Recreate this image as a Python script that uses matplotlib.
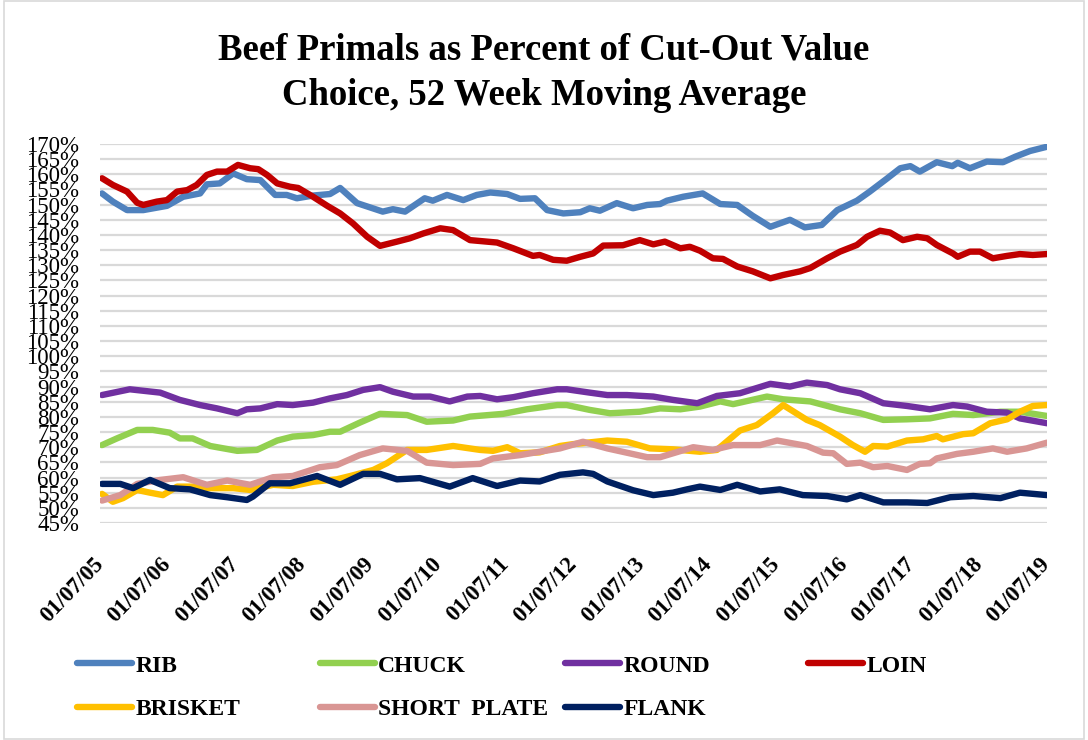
import numpy as np
import matplotlib
matplotlib.use("Agg")
import matplotlib.pyplot as plt
from matplotlib.patches import Rectangle

plt.rcParams['font.family'] = ['Liberation Serif', 'DejaVu Serif']

# years since 01/07/05, percent of cut-out value
rib = [(0.03, 153.7), (0.19, 151.0), (0.40, 148.2), (0.64, 148.2), (0.99, 149.6), (1.23, 152.6),
       (1.48, 153.7), (1.58, 156.7), (1.77, 157.0), (1.97, 160.3), (2.17, 158.4), (2.37, 158.1),
       (2.59, 153.2), (2.76, 153.2), (2.91, 152.1), (3.15, 153.0), (3.40, 153.5), (3.55, 155.5),
       (3.80, 150.5), (4.18, 147.7), (4.33, 148.5), (4.51, 147.7), (4.80, 152.1), (4.92, 151.3),
       (5.13, 153.2), (5.37, 151.5), (5.57, 153.2), (5.77, 154.0), (6.02, 153.5), (6.21, 151.9),
       (6.43, 152.1), (6.61, 148.2), (6.85, 147.1), (7.10, 147.5), (7.24, 148.8), (7.39, 148.0),
       (7.64, 150.5), (7.88, 148.8), (8.09, 149.9), (8.28, 150.2), (8.38, 151.3), (8.62, 152.6),
       (8.91, 153.7), (9.17, 150.2), (9.42, 149.9), (9.65, 146.3), (9.91, 142.7), (10.20, 145.0),
       (10.42, 142.5), (10.67, 143.3), (10.90, 148.2), (11.19, 151.3), (11.38, 154.3), (11.64, 158.7),
       (11.83, 162.0), (11.98, 162.7), (12.12, 160.9), (12.37, 164.0), (12.60, 162.7), (12.68, 163.8),
       (12.86, 162.0), (13.11, 164.2), (13.35, 164.0), (13.53, 165.8), (13.75, 167.7), (14.00, 169.1)]

chuck = [(0.03, 70.7), (0.25, 72.9), (0.55, 75.7), (0.78, 75.7), (1.03, 74.8), (1.18, 72.9),
         (1.37, 72.9), (1.63, 70.4), (2.03, 68.8), (2.32, 69.1), (2.62, 72.2), (2.85, 73.5),
         (3.15, 74.0), (3.40, 75.1), (3.55, 75.1), (3.84, 78.1), (4.14, 81.0), (4.54, 80.6),
         (4.83, 78.4), (5.22, 78.8), (5.47, 80.1), (5.96, 81.0), (6.31, 82.5), (6.76, 83.9),
         (6.90, 83.9), (7.24, 82.3), (7.54, 81.2), (7.98, 81.7), (8.28, 82.8), (8.58, 82.5),
         (8.87, 83.4), (9.17, 85.1), (9.36, 84.2), (9.86, 86.7), (10.10, 85.8), (10.50, 85.1),
         (10.94, 82.5), (11.24, 81.2), (11.58, 79.0), (11.93, 79.2), (12.27, 79.5), (12.61, 81.0),
         (12.91, 80.6), (13.31, 81.7), (13.60, 81.7), (14.00, 80.3)]

round_ = [(0.03, 87.2), (0.44, 89.1), (0.89, 88.0), (1.18, 85.6), (1.48, 83.9), (1.73, 82.8),
          (2.03, 81.2), (2.17, 82.5), (2.37, 82.8), (2.62, 84.2), (2.85, 83.9), (3.15, 84.7),
          (3.40, 86.1), (3.65, 87.2), (3.89, 88.9), (4.14, 89.8), (4.33, 88.3), (4.63, 86.7),
          (4.88, 86.7), (5.17, 85.1), (5.43, 86.7), (5.62, 86.9), (5.87, 85.8), (6.11, 86.5),
          (6.40, 87.8), (6.76, 89.1), (6.90, 89.1), (7.24, 88.0), (7.50, 87.2), (7.79, 87.2),
          (8.18, 86.7), (8.47, 85.6), (8.83, 84.5), (9.12, 86.9), (9.46, 87.8), (9.91, 90.9),
          (10.20, 90.0), (10.45, 91.3), (10.75, 90.5), (10.94, 89.1), (11.24, 87.8), (11.58, 84.5),
          (11.93, 83.6), (12.27, 82.5), (12.61, 83.9), (12.82, 83.4), (13.11, 81.7), (13.41, 81.4),
          (13.60, 79.5), (14.00, 77.9)]

loin = [(0.03, 158.7), (0.19, 156.5), (0.40, 154.3), (0.55, 150.6), (0.64, 149.9), (0.84, 151.0),
        (0.99, 151.5), (1.14, 154.3), (1.29, 154.8), (1.43, 156.5), (1.58, 159.8), (1.73, 160.9),
        (1.88, 160.9), (2.04, 163.1), (2.22, 162.0), (2.34, 161.7), (2.47, 159.8), (2.62, 157.0),
        (2.81, 155.9), (2.93, 155.5), (3.15, 152.6), (3.36, 149.6), (3.55, 147.1), (3.74, 143.8),
        (3.95, 139.4), (4.14, 136.4), (4.39, 137.8), (4.58, 138.9), (4.78, 140.5), (5.03, 142.2),
        (5.22, 141.6), (5.47, 138.3), (5.72, 137.8), (5.87, 137.5), (6.11, 135.6), (6.40, 133.1),
        (6.50, 133.4), (6.70, 131.8), (6.90, 131.5), (7.10, 132.8), (7.29, 133.9), (7.44, 136.5),
        (7.73, 136.6), (7.98, 138.3), (8.18, 136.9), (8.35, 137.8), (8.58, 135.6), (8.72, 136.1),
        (8.87, 134.8), (9.06, 132.3), (9.21, 132.1), (9.42, 129.6), (9.65, 128.0), (9.91, 125.7),
        (10.10, 126.8), (10.35, 128.0), (10.50, 129.1), (10.75, 132.3), (10.94, 134.5), (11.19, 136.7),
        (11.34, 139.4), (11.53, 141.4), (11.68, 140.8), (11.87, 138.3), (12.08, 139.4), (12.23, 138.9),
        (12.37, 136.7), (12.61, 133.9), (12.68, 132.8), (12.86, 134.5), (13.01, 134.5), (13.20, 132.3),
        (13.41, 133.1), (13.60, 133.7), (13.79, 133.4), (14.00, 133.7)]

brisket = [(0.03, 54.6), (0.19, 52.0), (0.34, 53.2), (0.55, 55.9), (0.74, 55.0), (0.93, 54.2),
           (1.14, 57.0), (1.37, 57.0), (1.63, 56.5), (1.97, 56.5), (2.22, 55.9), (2.56, 57.6),
           (2.85, 57.2), (3.15, 58.6), (3.50, 59.4), (3.70, 60.5), (4.04, 62.5), (4.24, 64.7),
           (4.54, 69.1), (4.83, 69.1), (5.22, 70.4), (5.62, 69.1), (5.81, 68.8), (6.02, 70.0),
           (6.21, 68.0), (6.50, 68.3), (6.80, 70.4), (6.99, 71.0), (7.50, 72.2), (7.79, 71.8),
           (8.13, 69.6), (8.47, 69.3), (8.87, 68.5), (9.12, 69.1), (9.46, 75.5), (9.71, 77.3),
           (9.95, 81.2), (10.10, 83.9), (10.45, 79.0), (10.64, 77.3), (10.94, 73.5), (11.13, 70.7),
           (11.31, 68.5), (11.43, 70.4), (11.64, 70.2), (11.93, 72.2), (12.17, 72.6), (12.37, 73.7),
           (12.46, 72.6), (12.76, 74.3), (12.91, 74.6), (13.16, 77.9), (13.41, 79.2), (13.60, 81.7),
           (13.79, 83.6), (14.00, 83.9)]

short_plate = [(0.03, 52.4), (0.30, 54.2), (0.55, 57.9), (0.89, 59.2), (1.23, 60.1), (1.58, 57.6),
               (1.88, 59.0), (2.22, 57.6), (2.56, 60.1), (2.85, 60.5), (3.25, 63.4), (3.50, 64.1),
               (3.84, 67.4), (4.18, 69.6), (4.54, 68.8), (4.83, 64.9), (5.22, 64.1), (5.62, 64.5),
               (5.81, 66.3), (6.21, 67.4), (6.50, 68.5), (6.80, 69.6), (7.14, 71.8), (7.50, 69.6),
               (8.09, 66.7), (8.28, 66.7), (8.77, 70.0), (9.06, 69.1), (9.36, 70.7), (9.76, 70.7),
               (10.01, 72.2), (10.45, 70.4), (10.69, 68.2), (10.84, 68.0), (11.04, 64.5), (11.24, 64.9),
               (11.43, 63.4), (11.64, 63.8), (11.93, 62.5), (12.12, 64.5), (12.27, 64.7), (12.37, 66.3),
               (12.67, 67.8), (12.91, 68.5), (13.20, 69.6), (13.41, 68.5), (13.70, 69.6), (14.00, 71.5)]

flank = [(0.03, 57.9), (0.30, 57.9), (0.49, 56.5), (0.74, 59.2), (1.03, 56.5), (1.33, 56.1),
         (1.63, 54.2), (1.88, 53.5), (2.17, 52.6), (2.26, 53.7), (2.51, 58.1), (2.81, 58.1),
         (3.21, 60.5), (3.55, 57.6), (3.89, 61.2), (4.14, 61.2), (4.39, 59.4), (4.73, 59.8),
         (5.17, 57.0), (5.51, 59.8), (5.87, 57.2), (6.21, 59.0), (6.50, 58.7), (6.80, 60.9),
         (7.14, 61.7), (7.29, 61.2), (7.50, 58.7), (7.88, 55.8), (8.18, 54.2), (8.47, 55.0),
         (8.68, 56.1), (8.87, 57.0), (9.17, 55.9), (9.42, 57.6), (9.76, 55.4), (10.05, 56.1),
         (10.39, 54.2), (10.75, 53.9), (11.04, 52.8), (11.24, 54.2), (11.58, 51.8), (11.93, 51.8),
         (12.23, 51.6), (12.57, 53.5), (12.91, 53.9), (13.31, 53.2), (13.60, 55.0), (14.00, 54.2)]

names = ['RIB', 'CHUCK', 'ROUND', 'LOIN', 'BRISKET', 'SHORT  PLATE', 'FLANK']
series = [rib, chuck, round_, loin, brisket, short_plate, flank]
colors = ['#4f81bd', '#92d050', '#7030a0', '#c00000', '#ffc000', '#d99694', '#002060']
x_labels = ['01/07/%02d' % y for y in range(5, 20)]
y_ticks = list(range(45, 171, 5))

fig = plt.figure(figsize=(10.88, 7.40), dpi=100)
ax = fig.add_axes([100 / 1088, 1 - 523 / 740, 947 / 1088, 379 / 740])

lines = []
for name, data, c in zip(names, series, colors):
    t, v = np.array(data).T
    ln, = ax.plot(t, v, color=c, lw=4.6, solid_joinstyle='round', solid_capstyle='round', label=name)
    lines.append(ln)

ax.set_xlim(0, 14)
ax.set_ylim(45, 170)
ax.set_yticks(y_ticks)
ax.set_yticklabels(['%d%%' % v for v in y_ticks], fontsize=16.5)
ax.set_xticks(range(len(x_labels)))
ax.set_xticklabels(x_labels, fontsize=16.5, fontweight='bold', rotation=46,
                   ha='right', va='center', rotation_mode='anchor')
ax.tick_params(axis='y', length=0, pad=15)
ax.tick_params(axis='x', length=0, pad=27)
ax.grid(axis='y', color='#d9d9d9', lw=1.6)
ax.set_axisbelow(True)
for s in ax.spines.values():
    s.set_visible(False)

fig.text(0.5, 1 - 33 / 740, 'Beef Primals as Percent of Cut-Out Value\nChoice, 52 Week Moving Average',
         ha='center', va='top', fontsize=26.5, fontweight='bold', linespacing=1.36)

# legend: four equal-width columns, two rows
col_x = [77, 320, 565, 808]
for i, x in enumerate(col_x):
    hs = [lines[j] for j in (i, i + 4) if j < len(lines)]
    fig.legend(handles=hs, loc='upper left', bbox_to_anchor=(x / 1088, 1 - 655 / 740),
               frameon=False, borderpad=0, borderaxespad=0, handlelength=2.35,
               handletextpad=0.12, labelspacing=0.95,
               prop={'family': 'Liberation Serif', 'weight': 'bold', 'size': 17})

fig.add_artist(Rectangle((0.004, 0.002), 0.992, 0.996, transform=fig.transFigure,
                         fill=False, edgecolor='#d9d9d9', lw=1.2))

fig.savefig('out.png', dpi=100)
